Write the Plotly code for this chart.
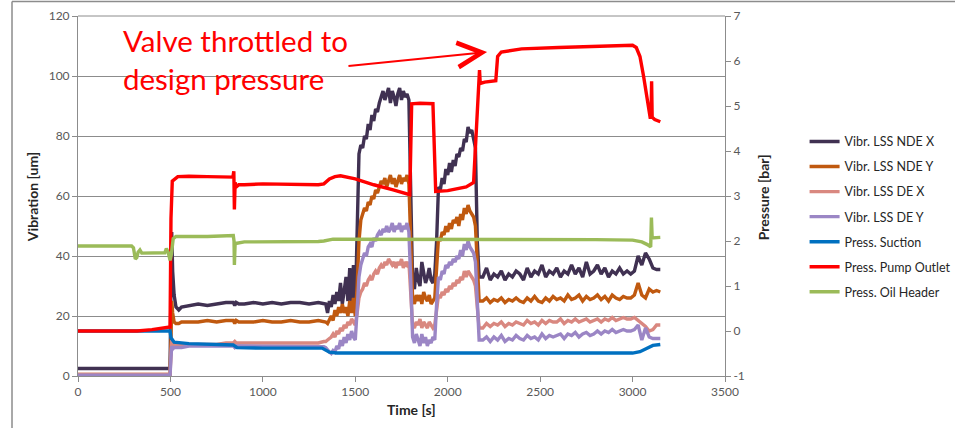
import plotly.graph_objects as go

# ---------------- data ----------------
# Vibration series: segment A (explicit times), B (1340..2170 step 10), C (2190..3150 step 20)
T_A = [0, 250, 498, 503, 507, 512, 520, 530, 545, 560, 600, 650, 700, 750, 800, 840,
       848, 856, 870, 900, 950, 1000, 1050, 1100, 1150, 1200, 1250, 1300, 1330]
B_START, B_STEP = 1340, 10
C_START, C_STEP = 2190, 20

ndex_a = [2.5, 2.5, 2.5, 30, 48, 35, 27, 23, 22, 23, 23.5, 24, 23.5, 24, 24.5, 24.5,
          23.5, 24.5, 24, 24, 24.5, 24, 24.5, 24, 24.5, 24.5, 24, 24.5, 24]
ndex_b = [24, 21, 25, 23, 27, 24, 28, 25, 31, 24,
          29, 33, 25, 36, 24, 37, 22, 45, 74, 77,
          76, 80, 79, 84, 82, 87, 85, 89, 88, 91,
          93, 95, 92, 94, 96, 91, 95, 93, 90, 94,
          96, 92, 95, 93, 94, 92, 60, 31, 29, 36,
          32, 30, 38, 34, 31, 33, 36, 32, 31, 34,
          45, 63, 62, 66, 64, 69, 67, 71, 68, 72,
          70, 74, 73, 76, 75, 79, 78, 83, 81, 82,
          79, 76, 45, 33]
ndex_c = [33, 36, 32, 34, 33, 35, 32, 34, 33, 35,
          34, 32, 36, 33, 35, 34, 37, 33, 35, 34,
          36, 33, 35, 34, 37, 34, 36, 33, 38, 34,
          35, 37, 34, 36, 33, 35, 34, 36, 34, 35,
          34, 35, 40, 37, 41, 39, 36, 35.5, 35.5]

ndey_a = [0.5, 0.5, 0.5, 12, 25, 21, 18, 17.5, 17.5, 18, 18, 18, 18.5, 18, 18.5, 18.5,
          17.5, 18.5, 18, 18, 18, 18.5, 18, 18, 18.5, 18, 18, 18.5, 18]
ndey_b = [18, 17.5, 19, 20, 18.5, 22, 20, 23, 21, 24,
          21, 23, 20, 25, 21, 26, 20, 30, 45, 52,
          54, 56, 55, 58, 57, 60, 59, 62, 61, 63,
          65, 64, 66, 63, 65, 67, 64, 66, 63, 65,
          67, 64, 66, 65, 67, 64, 45, 26, 24, 27,
          25, 27, 24, 28, 26, 25, 27, 24, 25, 26,
          36, 46, 45, 48, 47, 50, 48, 51, 49, 52,
          51, 53, 50, 54, 52, 56, 54, 57, 55, 54,
          53, 50, 35, 25]
ndey_c = [25, 26, 24.5, 25.5, 25, 26, 24.5, 25.5, 25, 26,
          25, 24.5, 26, 25, 26.5, 25, 24.5, 26, 25, 26.5,
          25.5, 26, 25, 27, 25.5, 26, 27, 25, 26.5, 25.5,
          26, 27, 25.5, 26.5, 25, 27, 26, 25.5, 26.5, 26,
          26, 27, 31, 27, 26, 29, 28, 28.5, 28]

dex_a = [0.5, 0.5, 0.5, 8, 12, 11, 10.5, 10.5, 10.5, 10.5, 10.5, 10.5, 10.5, 10.5, 11, 11,
         11.5, 11, 11, 11, 11, 11, 11, 11, 11, 11, 11, 11, 11.5]
dex_b = [11.5, 12, 12.5, 13, 14, 13, 15, 14, 16, 15,
         17, 16, 18, 17, 19, 18, 17, 21, 26, 28,
         29, 31, 30, 32, 33, 32, 34, 35, 34, 36,
         37, 36, 38, 37, 39, 38, 37, 38, 36, 38,
         37, 39, 36, 38, 37, 38, 28, 17, 16, 18,
         17, 19, 16, 18, 17, 16, 18, 17, 16, 17,
         22, 27, 26, 28, 27, 29, 28, 30, 29, 31,
         30, 32, 31, 33, 32, 35, 33, 35, 34, 33,
         32, 30, 22, 16]
dex_c = [16, 17.5, 16.5, 17.5, 17, 18, 16.5, 17.5, 17, 18,
         17.5, 17, 18.5, 17.5, 18, 17, 18.5, 17.5, 18.5, 18,
         18, 19, 17.5, 18.5, 18, 19, 18, 18.5, 19, 18,
         18.5, 19, 18, 19, 18.5, 19.5, 18.5, 19, 19.5, 19,
         19, 19.5, 18.5, 17.5, 16.5, 15, 15.5, 17, 17]

dey_a = [0.3, 0.3, 0.3, 6, 10, 9, 9.5, 9.5, 9.5, 9.5, 10, 10, 10, 10, 10, 10,
         9.5, 10, 10, 10, 10, 10, 10, 10, 10, 10, 10, 10, 9.8]
dey_b = [9.5, 8.5, 8, 7.5, 8.5, 8, 10, 9, 12, 10,
         13, 11, 14, 12, 15, 13, 12, 22, 33, 37,
         39, 41, 40, 43, 44, 43, 46, 45, 47, 48,
         47, 49, 48, 50, 48, 49, 51, 48, 50, 49,
         51, 48, 50, 49, 51, 48, 32, 13, 11, 14,
         12, 10, 14, 11, 13, 10, 12, 11, 13, 12,
         24, 33, 32, 35, 34, 37, 36, 38, 37, 39,
         38, 40, 39, 42, 40, 44, 42, 45, 43, 42,
         41, 38, 25, 12]
dey_c = [12, 13, 11.5, 13, 12, 13.5, 11.5, 12.5, 12, 13.5,
         12.5, 12, 13.5, 12.5, 13, 12, 14, 12.5, 13.5, 13,
         13.5, 14, 12.5, 14, 13.5, 14.5, 13, 14, 14.5, 13.5,
         14, 15, 14, 15, 14.5, 15.5, 14.5, 15, 15.5, 15,
         15, 15.5, 17, 12, 16, 13, 12.5, 12.5, 12.5]

# Pressure series (bar)
t_suction = [0, 498, 503, 520, 600, 840, 860, 1000, 1320, 1360, 1400, 2000, 2500, 3000,
             3040, 3080, 3110, 3150]
p_suction = [0, 0, -0.15, -0.25, -0.28, -0.31, -0.37, -0.38, -0.38, -0.47, -0.49, -0.49,
             -0.49, -0.49, -0.46, -0.37, -0.32, -0.30]

t_outlet = [0, 320, 400, 498, 503, 510, 540, 600, 700, 838, 843, 846, 850, 856, 870, 900,
            1000, 1300, 1330, 1360, 1390, 1420, 1500, 1600, 1700, 1795, 1805, 1850, 1920,
            1935, 2000, 2100, 2140, 2160, 2172, 2176, 2200, 2260, 2270, 2290, 2400, 2600,
            2800, 3000, 3020, 3040, 3060, 3080, 3095, 3100, 3103, 3106, 3120, 3150]
p_outlet = [0, 0, 0.03, 0.09, 2.5, 3.33, 3.43, 3.44, 3.43, 3.42, 3.55, 2.7, 3.3, 3.2, 3.25, 3.25,
            3.27, 3.25, 3.27, 3.38, 3.43, 3.45, 3.38, 3.25, 3.14, 3.03, 5.05, 5.06, 5.05,
            3.1, 3.12, 3.2, 3.3, 4.8, 5.8, 5.5, 5.53, 5.56, 6.1, 6.2, 6.27, 6.3,
            6.33, 6.35, 6.3, 6.1, 5.65, 5.1, 4.75, 4.75, 5.55, 4.75, 4.7, 4.65]

t_oil = [0, 290, 300, 310, 318, 325, 335, 345, 470, 478, 488, 498, 505, 515, 530, 700, 840,
         844, 846, 850, 860, 900, 1300, 1330, 1380, 2000, 2800, 3000, 3050, 3080, 3098,
         3102, 3106, 3150]
p_oil = [1.89, 1.89, 1.85, 1.6, 1.63, 1.75, 1.8, 1.73, 1.74, 1.83, 1.75, 1.57, 1.7, 2.05, 2.1,
         2.1, 2.12, 2.0, 1.47, 1.95, 1.95, 1.98, 1.99, 2.0, 2.04, 2.04, 2.03, 2.02, 1.98,
         1.92, 1.87, 2.52, 2.07, 2.08]

names = ["Vibr. LSS NDE X", "Vibr. LSS NDE Y", "Vibr. LSS DE X", "Vibr. LSS DE Y",
         "Press. Suction", "Press. Pump Outlet", "Press. Oil Header"]
colors = ["#403152", "#C0590F", "#D98880", "#9B86C5", "#0070C0", "#FF0000", "#9BBB59"]

x_ticks = [0, 500, 1000, 1500, 2000, 2500, 3000, 3500]
y_ticks = [0, 20, 40, 60, 80, 100, 120]
y2_ticks = [-1, 0, 1, 2, 3, 4, 5, 6, 7]
y2_labels = ["-1", "0", "1", "2", "3", "4", "5", "6", "7"]


def build_times(a_len, b_vals, c_vals):
    tb = [B_START + B_STEP * i for i in range(len(b_vals))]
    tc = [C_START + C_STEP * i for i in range(len(c_vals))]
    return T_A[:a_len] + tb + tc


vib = [(ndex_a, ndex_b, ndex_c), (ndey_a, ndey_b, ndey_c),
       (dex_a, dex_b, dex_c), (dey_a, dey_b, dey_c)]

LW = 3.4
fig = go.Figure()
for i, (a, b, c) in enumerate(vib):
    fig.add_trace(go.Scatter(x=build_times(len(a), b, c), y=a + b + c, mode="lines",
                             name=names[i], legendgroup=names[i],
                             line=dict(color=colors[i], width=LW)))

for i, (t, p) in enumerate([(t_suction, p_suction), (t_outlet, p_outlet), (t_oil, p_oil)]):
    fig.add_trace(go.Scatter(x=t, y=p, mode="lines", yaxis="y2",
                             name=names[4 + i], legendgroup=names[4 + i],
                             line=dict(color=colors[4 + i], width=LW)))

AX = "#8C8C8C"
TICKF = dict(family="Lato", size=12, color="#595959")
fig.update_layout(
    width=955, height=428,
    margin=dict(l=78, r=230, t=16, b=52, autoexpand=False),
    paper_bgcolor="white", plot_bgcolor="white",
    font=dict(family="Lato", size=12, color="#404040"),
    showlegend=True,
    legend=dict(x=1.123, y=0.692, xanchor="left", yanchor="top",
                font=dict(family="Lato", size=12.5, color="#262626"),
                itemwidth=30, tracegroupgap=5.8, bgcolor="rgba(0,0,0,0)"),
    xaxis=dict(range=[0, 3500], tickvals=x_ticks, showgrid=False, zeroline=False,
               showline=True, linecolor=AX, linewidth=1, ticks="outside", ticklen=5,
               tickcolor=AX, tickfont=TICKF),
    yaxis=dict(range=[0, 120], tickvals=y_ticks, showgrid=True, gridcolor=AX, gridwidth=1,
               zeroline=False, showline=True, linecolor=AX, linewidth=1, ticks="outside",
               ticklen=5, tickcolor=AX, tickfont=TICKF),
    yaxis2=dict(range=[-1, 7], tickvals=y2_ticks, ticktext=y2_labels, overlaying="y",
                side="right", showgrid=False, zeroline=False, showline=True, linecolor=AX,
                linewidth=1, ticks="outside", ticklen=5, tickcolor=AX, tickfont=TICKF),
)

# outer frame (partially visible, as in the reference crop)
fig.add_shape(type="line", xref="paper", yref="paper", x0=-0.102, x1=1.6, y0=1.04, y1=1.04,
              line=dict(color=AX, width=1.5))
fig.add_shape(type="line", xref="paper", yref="paper", x0=-0.102, x1=-0.102, y0=-0.3, y1=1.04,
              line=dict(color=AX, width=1.5))
# top border of plot area
fig.add_shape(type="line", xref="paper", yref="paper", x0=0, x1=1, y0=1, y1=1,
              line=dict(color=AX, width=1))

TITLEF = dict(family="Lato", size=14, color="#262626")
fig.add_annotation(text="<b>Vibration [um]</b>", xref="paper", yref="paper", x=-0.071, y=0.497,
                   xanchor="center", yanchor="middle",
                   textangle=-90, showarrow=False, font=TITLEF)
fig.add_annotation(text="<b>Pressure [bar]</b>", xref="paper", yref="paper", x=1.059, y=0.497,
                   xanchor="center", yanchor="middle",
                   textangle=-90, showarrow=False, font=TITLEF)
fig.add_annotation(text="<b>Time [s]</b>", xref="paper", yref="paper", x=0.516, y=-0.092,
                   xanchor="center", yanchor="middle", showarrow=False, font=TITLEF)

fig.add_annotation(text="Valve throttled to<br>design pressure", xref="paper", yref="paper",
                   x=0.066, y=0.985, xanchor="left", yanchor="top", align="left",
                   showarrow=False, font=dict(family="Lato", size=29.5, color="#FF0000"))
fig.add_annotation(text="", x=2213, y=108, xref="x", yref="y", ax=1455, ay=103.3,
                   axref="x", ayref="y", showarrow=True, arrowhead=5, arrowsize=2.4,
                   arrowwidth=2, arrowcolor="#FF0000")

fig.write_html("out.html")
